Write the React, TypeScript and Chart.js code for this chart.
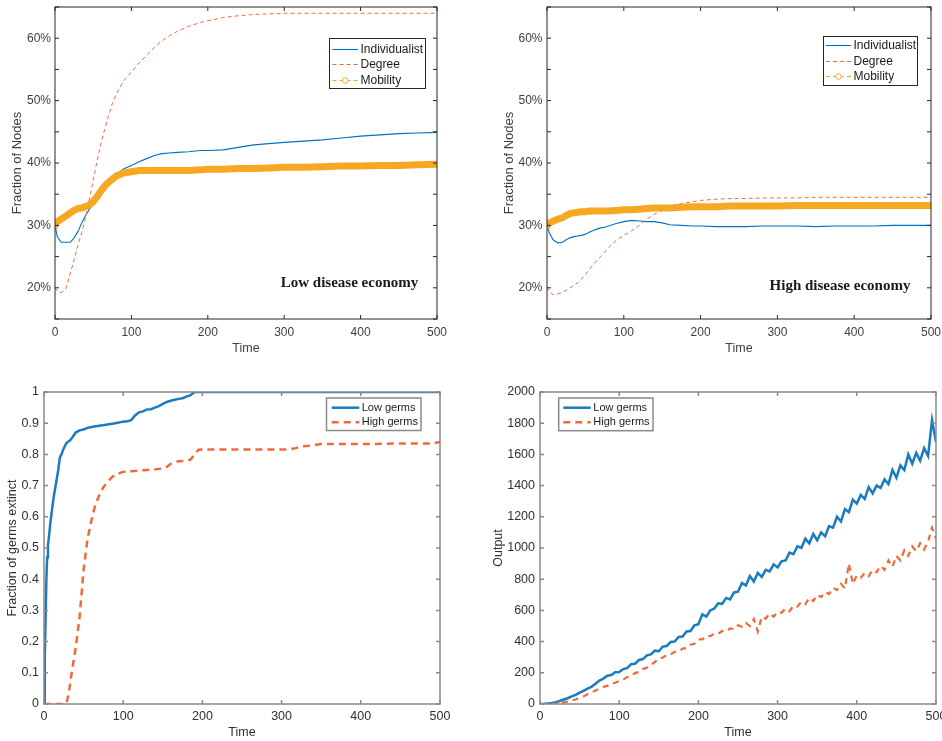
import React, { useEffect, useRef } from 'react';
import { Chart, registerables } from 'chart.js';
Chart.register(...registerables);

// ---------- DATA ----------
// Top panels: time points and % of nodes
const tTop = [0, 3, 8, 14, 20, 25, 30, 35, 40, 45, 50, 55, 60, 65, 70, 75, 80, 90, 100, 110, 120, 130, 140, 150, 160, 175, 190, 200, 220, 240, 260, 280, 300, 325, 350, 375, 400, 425, 450, 475, 500];

const lowIndividualist = [30.0, 28.2, 27.3, 27.3, 27.3, 28.0, 29.0, 30.4, 31.6, 32.6, 33.4, 34.2, 35.0, 35.8, 36.6, 37.4, 38.1, 39.1, 39.6, 40.2, 40.7, 41.2, 41.5, 41.6, 41.7, 41.8, 42.0, 42.0, 42.1, 42.5, 42.9, 43.1, 43.3, 43.5, 43.7, 44.0, 44.3, 44.5, 44.7, 44.8, 44.9];
const lowDegree = [20.0, 19.5, 19.2, 19.8, 22.3, 24.5, 26.8, 28.9, 31.2, 34.2, 37.2, 40.3, 43.1, 45.4, 47.6, 49.5, 51.0, 53.2, 54.6, 56.0, 57.3, 58.5, 59.6, 60.4, 61.1, 61.9, 62.5, 62.8, 63.3, 63.6, 63.8, 63.9, 64.0, 64.0, 64.0, 64.0, 64.0, 64.0, 64.0, 64.0, 64.0];
const lowMobility = [30.0, 30.6, 31.0, 31.5, 32.0, 32.4, 32.7, 32.8, 33.0, 33.3, 33.8, 34.6, 35.5, 36.3, 36.9, 37.4, 37.9, 38.4, 38.6, 38.8, 38.8, 38.8, 38.8, 38.8, 38.8, 38.8, 38.9, 39.0, 39.0, 39.1, 39.1, 39.2, 39.3, 39.3, 39.4, 39.5, 39.5, 39.6, 39.6, 39.7, 39.8];

const highIndividualist = [30.0, 28.8, 27.7, 27.2, 27.3, 27.7, 28.0, 28.2, 28.3, 28.4, 28.6, 28.9, 29.2, 29.4, 29.6, 29.7, 29.9, 30.3, 30.6, 30.8, 30.7, 30.6, 30.6, 30.4, 30.1, 30.0, 29.9, 29.9, 29.8, 29.8, 29.8, 29.9, 29.9, 29.9, 29.8, 29.9, 29.9, 29.9, 30.0, 30.0, 30.0];
const highDegree = [20.1, 19.4, 18.9, 19.0, 19.3, 19.6, 20.0, 20.4, 20.8, 21.4, 22.1, 22.9, 23.7, 24.4, 25.0, 25.7, 26.4, 27.6, 28.4, 29.1, 30.0, 31.0, 31.8, 32.4, 33.0, 33.5, 33.8, 34.0, 34.2, 34.3, 34.3, 34.4, 34.4, 34.4, 34.5, 34.5, 34.5, 34.5, 34.5, 34.5, 34.5];
const highMobility = [29.9, 30.4, 30.7, 31.0, 31.2, 31.6, 31.9, 32.0, 32.1, 32.2, 32.2, 32.3, 32.3, 32.3, 32.3, 32.3, 32.3, 32.4, 32.5, 32.5, 32.6, 32.7, 32.8, 32.8, 32.8, 32.9, 33.0, 33.0, 33.0, 33.1, 33.1, 33.1, 33.1, 33.2, 33.2, 33.2, 33.2, 33.2, 33.2, 33.2, 33.2];

const topYTicks = ['20%', '30%', '40%', '50%', '60%'];

// Bottom-left: fraction of germs extinct
const tLowGerms = [0, 1, 2, 3, 4, 5, 6, 8, 10, 12, 14, 16, 18, 20, 22, 25, 28, 30, 33, 36, 40, 45, 50, 55, 60, 65, 70, 80, 90, 100, 105, 110, 115, 120, 125, 130, 135, 140, 145, 150, 155, 160, 165, 170, 175, 180, 185, 190, 200, 300, 400, 500];
const lowGermsExtinct = [0, 0.15, 0.28, 0.40, 0.47, 0.51, 0.53, 0.58, 0.62, 0.66, 0.69, 0.72, 0.75, 0.79, 0.80, 0.82, 0.835, 0.84, 0.845, 0.855, 0.87, 0.877, 0.88, 0.885, 0.888, 0.89, 0.892, 0.896, 0.90, 0.905, 0.906, 0.91, 0.925, 0.935, 0.938, 0.944, 0.945, 0.95, 0.955, 0.962, 0.968, 0.972, 0.975, 0.978, 0.98, 0.985, 0.99, 1.0, 1.0, 1.0, 1.0, 1.0];
const tHighGerms = [0, 28, 31, 35, 40, 45, 50, 55, 60, 65, 70, 75, 80, 85, 90, 100, 110, 120, 130, 140, 150, 155, 160, 165, 170, 180, 185, 190, 195, 200, 250, 300, 310, 318, 325, 335, 350, 400, 450, 490, 500];
const highGermsExtinct = [0, 0, 0.03, 0.10, 0.18, 0.28, 0.43, 0.53, 0.59, 0.64, 0.67, 0.695, 0.71, 0.725, 0.735, 0.744, 0.746, 0.748, 0.75, 0.752, 0.755, 0.76, 0.77, 0.775, 0.778, 0.78, 0.783, 0.80, 0.815, 0.816, 0.816, 0.816, 0.816, 0.82, 0.826, 0.828, 0.833, 0.833, 0.835, 0.835, 0.84];

// Bottom-right: output
const tOutput = [0, 5, 10, 15, 20, 25, 30, 35, 40, 45, 50, 55, 60, 65, 70, 75, 80, 85, 90, 95, 100, 105, 110, 115, 120, 125, 130, 135, 140, 145, 150, 155, 160, 165, 170, 175, 180, 185, 190, 195, 200, 205, 210, 215, 220, 225, 230, 235, 240, 245, 250, 255, 260, 265, 270, 275, 280, 285, 290, 295, 300, 305, 310, 315, 320, 325, 330, 335, 340, 345, 350, 355, 360, 365, 370, 375, 380, 385, 390, 395, 400, 405, 410, 415, 420, 425, 430, 435, 440, 445, 450, 455, 460, 465, 470, 475, 480, 485, 490, 495, 500];
const lowGermsOutput = [0, 1, 3, 7, 12, 19, 29, 37, 49, 59, 73, 84, 99, 110, 130, 150, 163, 181, 186, 203, 205, 224, 230, 255, 258, 282, 288, 312, 318, 342, 338, 368, 372, 398, 400, 430, 432, 465, 468, 505, 512, 575, 560, 600, 612, 645, 642, 680, 670, 715, 720, 775, 760, 820, 785, 840, 815, 860, 850, 895, 875, 915, 920, 970, 960, 1010, 1000, 1060, 1030, 1090, 1050, 1100, 1075, 1140, 1130, 1200, 1170, 1250, 1230, 1310, 1285, 1340, 1315, 1390, 1350, 1400, 1385, 1440, 1410, 1500, 1450, 1530, 1500, 1600, 1540, 1610, 1560, 1640, 1590, 1820, 1680];
const highGermsOutput = [0, 0, 0, 1, 3, 6, 11, 15, 23, 29, 41, 49, 63, 73, 87, 97, 110, 116, 130, 136, 147, 156, 172, 180, 198, 205, 225, 233, 253, 268, 293, 297, 316, 318, 334, 337, 355, 358, 380, 386, 415, 414, 436, 435, 452, 450, 468, 464, 485, 480, 505, 495, 520, 500, 545, 465, 560, 548, 580, 560, 590, 585, 612, 595, 630, 625, 655, 640, 680, 660, 700, 685, 718, 705, 745, 730, 770, 740, 900, 770, 825, 810, 840, 820, 860, 845, 885, 860, 920, 880, 950, 920, 985, 950, 1010, 980, 1030, 990, 1040, 1130, 1060];

// ---------- HELPERS ----------
const pts = (xs: number[], ys: number[]) => xs.map((x, i) => ({ x, y: ys[i] }));

const TOP_BLUE = '#0072BD';
const TOP_RED = '#EF6A43';
const TOP_GOLD = '#F7A823';
const BOT_BLUE = '#1B7BC0';
const BOT_RED = '#EE6B37';

type LegendItem = { label: string; color: string; width: number; dash: number[]; marker?: boolean };

type PanelCfg = {
  cx: number; cy: number; cw: number; ch: number;
  L: number; T: number; R: number; B: number;
  datasets: any[];
  yMin: number; yMax: number; yStep: number;
  yFmt: (v: number) => string;
  yTitle: string; yTitlePad: number; yTitleSize: number;
  xTitlePad: number; xTitleSize: number;
  tickSize: number; tickColor: string; yTickPad: number; xTickPad: number;
  boxColor: string; boxWidth: number;
  legend: { x0: number; y0: number; x1: number; y1: number; rows: number[]; lx0: number; lx1: number; tx: number; size: number; items: LegendItem[] };
  note?: { text: string; x: number; y: number };
};

function framePlugin(p: PanelCfg) {
  return {
    id: 'matlabFrame',
    afterDraw(chart: any) {
      const { ctx, chartArea: a, scales } = chart;
      const ox = p.cx, oy = p.cy;
      ctx.save();
      ctx.strokeStyle = p.boxColor;
      ctx.lineWidth = p.boxWidth;
      ctx.setLineDash([]);
      const tl = 4;
      ctx.beginPath();
      scales.x.ticks.forEach((t: any) => {
        const px = scales.x.getPixelForValue(t.value);
        ctx.moveTo(px, a.bottom); ctx.lineTo(px, a.bottom - tl);
        ctx.moveTo(px, a.top); ctx.lineTo(px, a.top + tl);
      });
      scales.y.ticks.forEach((t: any) => {
        const py = scales.y.getPixelForValue(t.value);
        ctx.moveTo(a.left, py); ctx.lineTo(a.left + tl, py);
        ctx.moveTo(a.right, py); ctx.lineTo(a.right - tl, py);
      });
      ctx.stroke();
      ctx.strokeRect(a.left, a.top, a.right - a.left, a.bottom - a.top);

      const lg = p.legend;
      ctx.fillStyle = '#ffffff';
      ctx.fillRect(lg.x0 - ox, lg.y0 - oy, lg.x1 - lg.x0, lg.y1 - lg.y0);
      ctx.strokeStyle = p.boxColor;
      ctx.lineWidth = p.boxWidth;
      ctx.strokeRect(lg.x0 - ox, lg.y0 - oy, lg.x1 - lg.x0, lg.y1 - lg.y0);
      ctx.font = `${lg.size}px "Liberation Sans", Arial, sans-serif`;
      ctx.textBaseline = 'middle';
      ctx.textAlign = 'left';
      lg.items.forEach((it, i) => {
        const y = lg.rows[i] - oy;
        ctx.strokeStyle = it.color;
        ctx.lineWidth = it.width;
        ctx.setLineDash(it.dash);
        ctx.beginPath();
        ctx.moveTo(lg.lx0 - ox, y);
        ctx.lineTo(lg.lx1 - ox, y);
        ctx.stroke();
        ctx.setLineDash([]);
        if (it.marker) {
          const mx = (lg.lx0 + lg.lx1) / 2 - ox;
          ctx.fillStyle = '#ffffff';
          ctx.beginPath();
          ctx.arc(mx, y, 2.8, 0, Math.PI * 2);
          ctx.fill();
          ctx.lineWidth = 1;
          ctx.strokeStyle = it.color;
          ctx.stroke();
        }
        ctx.fillStyle = '#1a1a1a';
        ctx.fillText(it.label, lg.tx - ox, y);
      });

      if (p.note) {
        ctx.font = 'bold 15px "Liberation Serif", "Times New Roman", serif';
        ctx.fillStyle = '#1a1a1a';
        ctx.textAlign = 'center';
        ctx.textBaseline = 'alphabetic';
        ctx.fillText(p.note.text, p.note.x - ox, p.note.y - oy);
      }
      ctx.restore();
    },
  };
}

function buildConfig(p: PanelCfg): any {
  const tickFont = { family: '"Liberation Sans", Arial, sans-serif', size: p.tickSize };
  return {
    type: 'line',
    data: { datasets: p.datasets },
    options: {
      responsive: false,
      animation: false,
      events: [],
      layout: { padding: { left: 0, top: p.T - p.cy, right: p.cx + p.cw - p.R, bottom: 0 } },
      plugins: { legend: { display: false }, tooltip: { enabled: false }, title: { display: false } },
      elements: { point: { radius: 0 }, line: { tension: 0 } },
      scales: {
        x: {
          type: 'linear', min: 0, max: 500,
          ticks: { stepSize: 100, padding: p.xTickPad, font: tickFont, color: p.tickColor, maxRotation: 0, autoSkip: false },
          grid: { display: false, drawTicks: false }, border: { display: false },
          title: { display: true, text: 'Time', color: p.tickColor, font: { family: '"Liberation Sans", Arial, sans-serif', size: p.xTitleSize }, padding: { top: 0, bottom: p.xTitlePad } },
          afterFit: (s: any) => { s.height = p.cy + p.ch - p.B; s.paddingLeft = 0; s.paddingRight = 0; },
        },
        y: {
          type: 'linear', min: p.yMin, max: p.yMax,
          ticks: { stepSize: p.yStep, padding: p.yTickPad, font: tickFont, color: p.tickColor, autoSkip: false, callback: (v: number) => p.yFmt(v) },
          grid: { display: false, drawTicks: false }, border: { display: false },
          title: { display: true, text: p.yTitle, color: p.tickColor, font: { family: '"Liberation Sans", Arial, sans-serif', size: p.yTitleSize }, padding: { top: p.yTitlePad, bottom: 0 } },
          afterFit: (s: any) => { s.width = p.L - p.cx; s.paddingTop = 0; s.paddingBottom = 0; },
        },
      },
    },
    plugins: [framePlugin(p)],
  };
}

const pctFmt = (v: number) => {
  const r = Math.round(v);
  const lbl = `${r}%`;
  return topYTicks.includes(lbl) ? lbl : '';
};

const topDatasets = (ind: number[], deg: number[], mob: number[]) => [
  { data: pts(tTop, mob), borderColor: TOP_GOLD, borderWidth: 7, borderCapStyle: 'round', borderJoinStyle: 'round', pointRadius: 0 },
  { data: pts(tTop, deg), borderColor: TOP_RED, borderWidth: 1, borderDash: [4, 3], pointRadius: 0 },
  { data: pts(tTop, ind), borderColor: TOP_BLUE, borderWidth: 1.1, pointRadius: 0 },
];

const topLegendItems: LegendItem[] = [
  { label: 'Individualist', color: TOP_BLUE, width: 1.1, dash: [] },
  { label: 'Degree', color: TOP_RED, width: 1, dash: [4, 3] },
  { label: 'Mobility', color: TOP_GOLD, width: 1, dash: [4, 3], marker: true },
];
const botLegendItems: LegendItem[] = [
  { label: 'Low germs', color: BOT_BLUE, width: 2.5, dash: [] },
  { label: 'High germs', color: BOT_RED, width: 2.5, dash: [7, 5] },
];

const topCommon = {
  yMin: 15, yMax: 65, yStep: 5, yFmt: pctFmt, yTitle: 'Fraction of Nodes', yTitleSize: 13,
  xTitlePad: 9.3, xTitleSize: 12.5, tickSize: 12, tickColor: '#404040', xTickPad: 6,
  boxColor: '#262626', boxWidth: 1,
};
const botCommon = {
  xTitlePad: 0.5, xTitleSize: 12.5, tickSize: 12.5, tickColor: '#303030', xTickPad: 5.5,
  boxColor: '#8a8a8a', boxWidth: 1.5, yTitleSize: 12.5,
};

const panels: PanelCfg[] = [
  {
    ...topCommon,
    cx: 0, cy: 0, cw: 470, ch: 365, L: 55, T: 7, R: 437, B: 319,
    datasets: topDatasets(lowIndividualist, lowDegree, lowMobility),
    yTitlePad: 9.7, yTickPad: 4,
    legend: { x0: 329.5, y0: 38.5, x1: 425.5, y1: 88.5, rows: [49.5, 64.5, 80.5], lx0: 332.5, lx1: 358, tx: 360.5, size: 12, items: topLegendItems },
    note: { text: 'Low disease economy', x: 349.5, y: 287 },
  },
  {
    ...topCommon,
    cx: 470, cy: 0, cw: 472, ch: 365, L: 547, T: 7, R: 931, B: 319,
    datasets: topDatasets(highIndividualist, highDegree, highMobility),
    yTitlePad: 32, yTickPad: 4.5,
    legend: { x0: 823.5, y0: 36.5, x1: 917.5, y1: 85.5, rows: [45.5, 61.5, 76.5], lx0: 826, lx1: 851, tx: 853.5, size: 12, items: topLegendItems },
    note: { text: 'High disease economy', x: 840, y: 289.5 },
  },
  {
    ...botCommon,
    cx: 0, cy: 365, cw: 470, ch: 376, L: 44, T: 392, R: 440, B: 704,
    datasets: [
      { data: pts(tHighGerms, highGermsExtinct), borderColor: BOT_RED, borderWidth: 2.5, borderDash: [7, 5], pointRadius: 0 },
      { data: pts(tLowGerms, lowGermsExtinct), borderColor: BOT_BLUE, borderWidth: 2.5, pointRadius: 0 },
    ],
    yMin: 0, yMax: 1, yStep: 0.1,
    yFmt: (v: number) => { const r = Math.round(v * 10) / 10; return r === 0 ? '0' : r === 1 ? '1' : r.toFixed(1); },
    yTitle: 'Fraction of germs extinct', yTitlePad: 5.3, yTickPad: 5,
    legend: { x0: 326.5, y0: 398, x1: 421, y1: 430.5, rows: [407.7, 422.3], lx0: 331.7, lx1: 359.3, tx: 361.7, size: 11, items: botLegendItems },
  },
  {
    ...botCommon,
    cx: 470, cy: 365, cw: 472, ch: 376, L: 540, T: 392, R: 936, B: 704,
    datasets: [
      { data: pts(tOutput, highGermsOutput), borderColor: BOT_RED, borderWidth: 2.2, borderDash: [6, 5], pointRadius: 0 },
      { data: pts(tOutput, lowGermsOutput), borderColor: BOT_BLUE, borderWidth: 2.5, pointRadius: 0 },
    ],
    yMin: 0, yMax: 2000, yStep: 200,
    yFmt: (v: number) => `${Math.round(v)}`,
    yTitle: 'Output', yTitlePad: 20.8, yTickPad: 5,
    legend: { x0: 558.7, y0: 398, x1: 653, y1: 430.7, rows: [407.7, 422.3], lx0: 563.3, lx1: 590.7, tx: 593.3, size: 11, items: botLegendItems },
  },
];

function Panel({ p }: { p: PanelCfg }) {
  const ref = useRef<HTMLCanvasElement>(null);
  useEffect(() => {
    const chart = new Chart(ref.current as HTMLCanvasElement, buildConfig(p));
    return () => chart.destroy();
  }, []);
  return (
    <canvas
      ref={ref}
      width={p.cw}
      height={p.ch}
      style={{ position: 'absolute', left: p.cx, top: p.cy, width: p.cw, height: p.ch, display: 'block' }}
    />
  );
}

export default function App() {
  return (
    <div style={{ position: 'absolute', left: 0, top: 0, width: 942, height: 741, background: '#ffffff', overflow: 'hidden' }}>
      {panels.map((p, i) => <Panel key={i} p={p} />)}
    </div>
  );
}
